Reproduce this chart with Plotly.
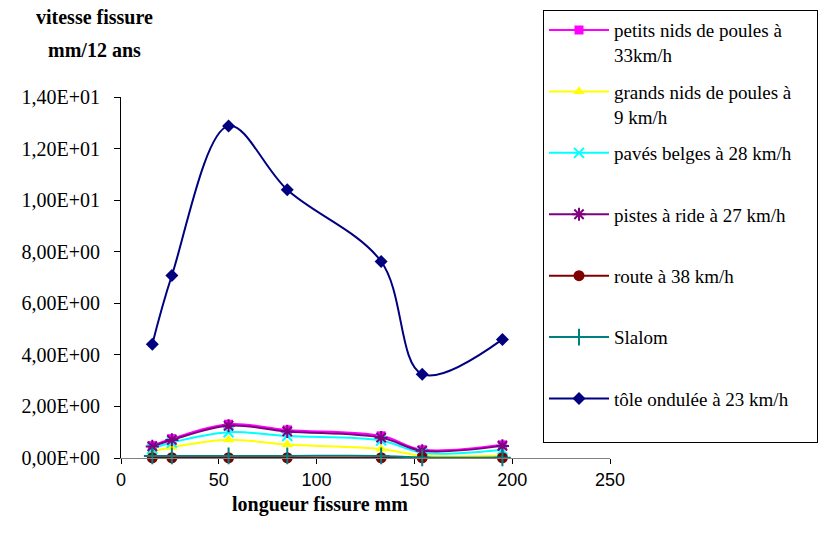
import plotly.graph_objects as go

# Crack length (mm)
longueur = [16, 26, 55, 85, 133, 154, 195]

# Crack growth speed (mm / 12 years) per test track
petits_nids = [0.48, 0.75, 1.31, 1.09, 0.86, 0.32, 0.51]
grands_nids = [0.26, 0.42, 0.71, 0.52, 0.35, 0.09, 0.10]
paves_belges = [0.36, 0.60, 1.00, 0.85, 0.68, 0.20, 0.32]
pistes_ride = [0.45, 0.70, 1.25, 1.03, 0.79, 0.28, 0.47]
route = [0.01, 0.01, 0.01, 0.01, 0.01, 0.01, 0.01]
slalom = [0.08, 0.08, 0.08, 0.08, 0.08, 0.01, 0.01]
tole_ondulee = [4.41, 7.08, 12.88, 10.40, 7.62, 3.25, 4.60]

y_tickvals = [0, 2, 4, 6, 8, 10, 12, 14]
y_ticktext = ["0,00E+00", "2,00E+00", "4,00E+00", "6,00E+00",
              "8,00E+00", "1,00E+01", "1,20E+01", "1,40E+01"]
x_tickvals = [0, 50, 100, 150, 200, 250]

series = [
    ("petits nids de poules à<br>33km/h", petits_nids, "#FF00FF", "square", 9),
    ("grands nids de poules à<br>9 km/h", grands_nids, "#FFFF00", "triangle-up", 10),
    ("pavés belges à 28 km/h<br> ", paves_belges, "#00FFFF", "x-thin", 10),
    ("pistes à ride à 27 km/h<br> ", pistes_ride, "#800080", "asterisk", 11),
    ("route à 38 km/h<br> ", route, "#800000", "circle", 11),
    ("Slalom<br> ", slalom, "#008080", "cross-thin", 12),
    ("tôle ondulée à 23 km/h&nbsp;&nbsp;&nbsp;&nbsp;&nbsp;<br> ", tole_ondulee, "#000080", "diamond", 10),
]

fig = go.Figure()
for i, (name, vals, color, symbol, size) in enumerate(series):
    thin = symbol in ("x-thin", "asterisk", "cross-thin")
    fig.add_trace(go.Scatter(
        x=longueur, y=vals, name=name, mode="lines+markers",
        legendgroup=f"g{i}", cliponaxis=False,
        line=dict(color=color, width=2, shape="spline", smoothing=1),
        marker=dict(symbol=symbol, size=size, color=color,
                    line=dict(color=color, width=2 if thin else 0)),
    ))

serif = "Liberation Serif"
sans = "Liberation Sans"

fig.update_layout(
    width=830, height=547,
    margin=dict(l=121, r=220, t=96, b=89),
    paper_bgcolor="white", plot_bgcolor="white",
    font=dict(family=serif, size=19, color="black"),
    showlegend=True,
    legend=dict(
        x=0.863, y=1.237, xanchor="left", yanchor="top",
        bordercolor="black", borderwidth=1,
        font=dict(family=serif, size=19, color="black"),
        valign="top", tracegroupgap=9, itemwidth=60,
        maxheight=700,
    ),
    xaxis=dict(
        range=[0, 250], tickvals=x_tickvals, showgrid=False, zeroline=False,
        showline=True, linecolor="#808080", linewidth=1,
        ticks="outside", ticklen=5, tickcolor="black",
        tickfont=dict(family=sans, size=18, color="black"),
    ),
    yaxis=dict(
        range=[0, 14], tickvals=y_tickvals, ticktext=y_ticktext,
        showgrid=False, zeroline=False,
        showline=True, linecolor="black", linewidth=1,
        ticks="outside", ticklen=6, tickcolor="black",
        ticklabelstandoff=10,
        tickfont=dict(family=serif, size=20, color="black"),
    ),
    annotations=[
        dict(text="<b>vitesse fissure</b>", xref="paper", yref="paper",
             x=-0.054, y=1.222, xanchor="center", yanchor="middle",
             showarrow=False, font=dict(family=serif, size=20, color="black")),
        dict(text="<b>mm/12 ans</b>", xref="paper", yref="paper",
             x=-0.054, y=1.13, xanchor="center", yanchor="middle",
             showarrow=False, font=dict(family=serif, size=20, color="black")),
        dict(text="<b>longueur fissure mm</b>", xref="paper", yref="paper",
             x=0.407, y=-0.13, xanchor="center", yanchor="middle",
             showarrow=False, font=dict(family=serif, size=20, color="black")),
    ],
)

fig.write_html("out.html")
